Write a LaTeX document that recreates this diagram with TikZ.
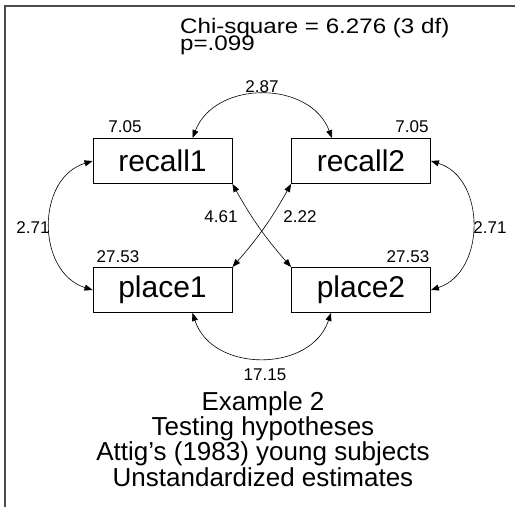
\documentclass[tikz,border=0pt]{standalone}
\usepackage{fontspec}
\setmainfont{Liberation Sans}
\usetikzlibrary{arrows.meta,calc}
\begin{document}
\begin{tikzpicture}[x=1pt,y=-1pt,
  var/.style={draw=black,line width=0.9pt,minimum width=139pt,minimum height=45pt,inner sep=0pt,font=\fontsize{30}{30}\selectfont},
  num/.style={inner sep=0pt,font=\fontsize{17}{17}\selectfont},
  ttl/.style={inner sep=0pt,anchor=base west,font=\fontsize{21}{21}\selectfont},
  cov/.style={line width=0.6pt,{Triangle[length=8pt,width=6pt]}-{Triangle[length=8pt,width=6pt]}},
  frame/.style={line width=1.3pt,draw=black!70}]
\useasboundingbox (0,0) rectangle (515,507);
\fill[white] (0,0) rectangle (515,507);
\coordinate (ftr) at (515,6);
\coordinate (ftl) at (5,6);
\coordinate (fbl) at (5,507);
\draw[frame] (ftr) -- (ftl) -- (fbl);

\node[ttl] (title1) at (180,33) {\scalebox{1.15}[1]{Chi-square = 6.276 (3 df)}};
\node[ttl] (title2) at (180,50) {\scalebox{1.15}[1]{p=.099}};

\node[var] (r1) at (162.5,161) {recall1};
\node[var] (r2) at (361,161) {recall2};
\node[var] (p1) at (162.5,290) {place1};
\node[var] (p2) at (361,290) {place2};

\node[num] (v1) at (125,127) {7.05};
\node[num] (v2) at (412,127) {7.05};
\node[num] (v3) at (118,257) {27.53};
\node[num] (v4) at (408,257) {27.53};

% covariances
\draw[cov] ([xshift=30pt]r1.north) .. controls (215,80) and (310,80) .. ([xshift=-29pt]r2.north);
\node[num] (c1) at (262,87) {2.87};
\draw[cov] (r1.west) .. controls (36,178) and (36,272) .. (p1.west);
\node[num] (c2) at (33,228) {2.71};
\draw[cov] (r2.east) .. controls (486,178) and (486,272) .. (p2.east);
\node[num] (c3) at (490,228) {2.71};
\draw[cov] ([xshift=30pt]p1.south) .. controls (212,373) and (311,373) .. ([xshift=-30pt]p2.south);
\node[num] (c4) at (265,375) {17.15};
\draw[cov] (r1.south east) to[bend right=6] (p2.north west);
\node[num] (c5) at (221,217) {4.61};
\draw[cov] (r2.south west) to[bend left=6] (p1.north east);
\node[num] (c6) at (300,217) {2.22};

\node[inner sep=0pt,font=\fontsize{26}{22.3}\selectfont,align=center] (caption) at (263,439)
  {Example 2\\Testing hypotheses\\Attig\symbol{39}s (1983) young subjects\\Unstandardized estimates};
\end{tikzpicture}
\end{document}
